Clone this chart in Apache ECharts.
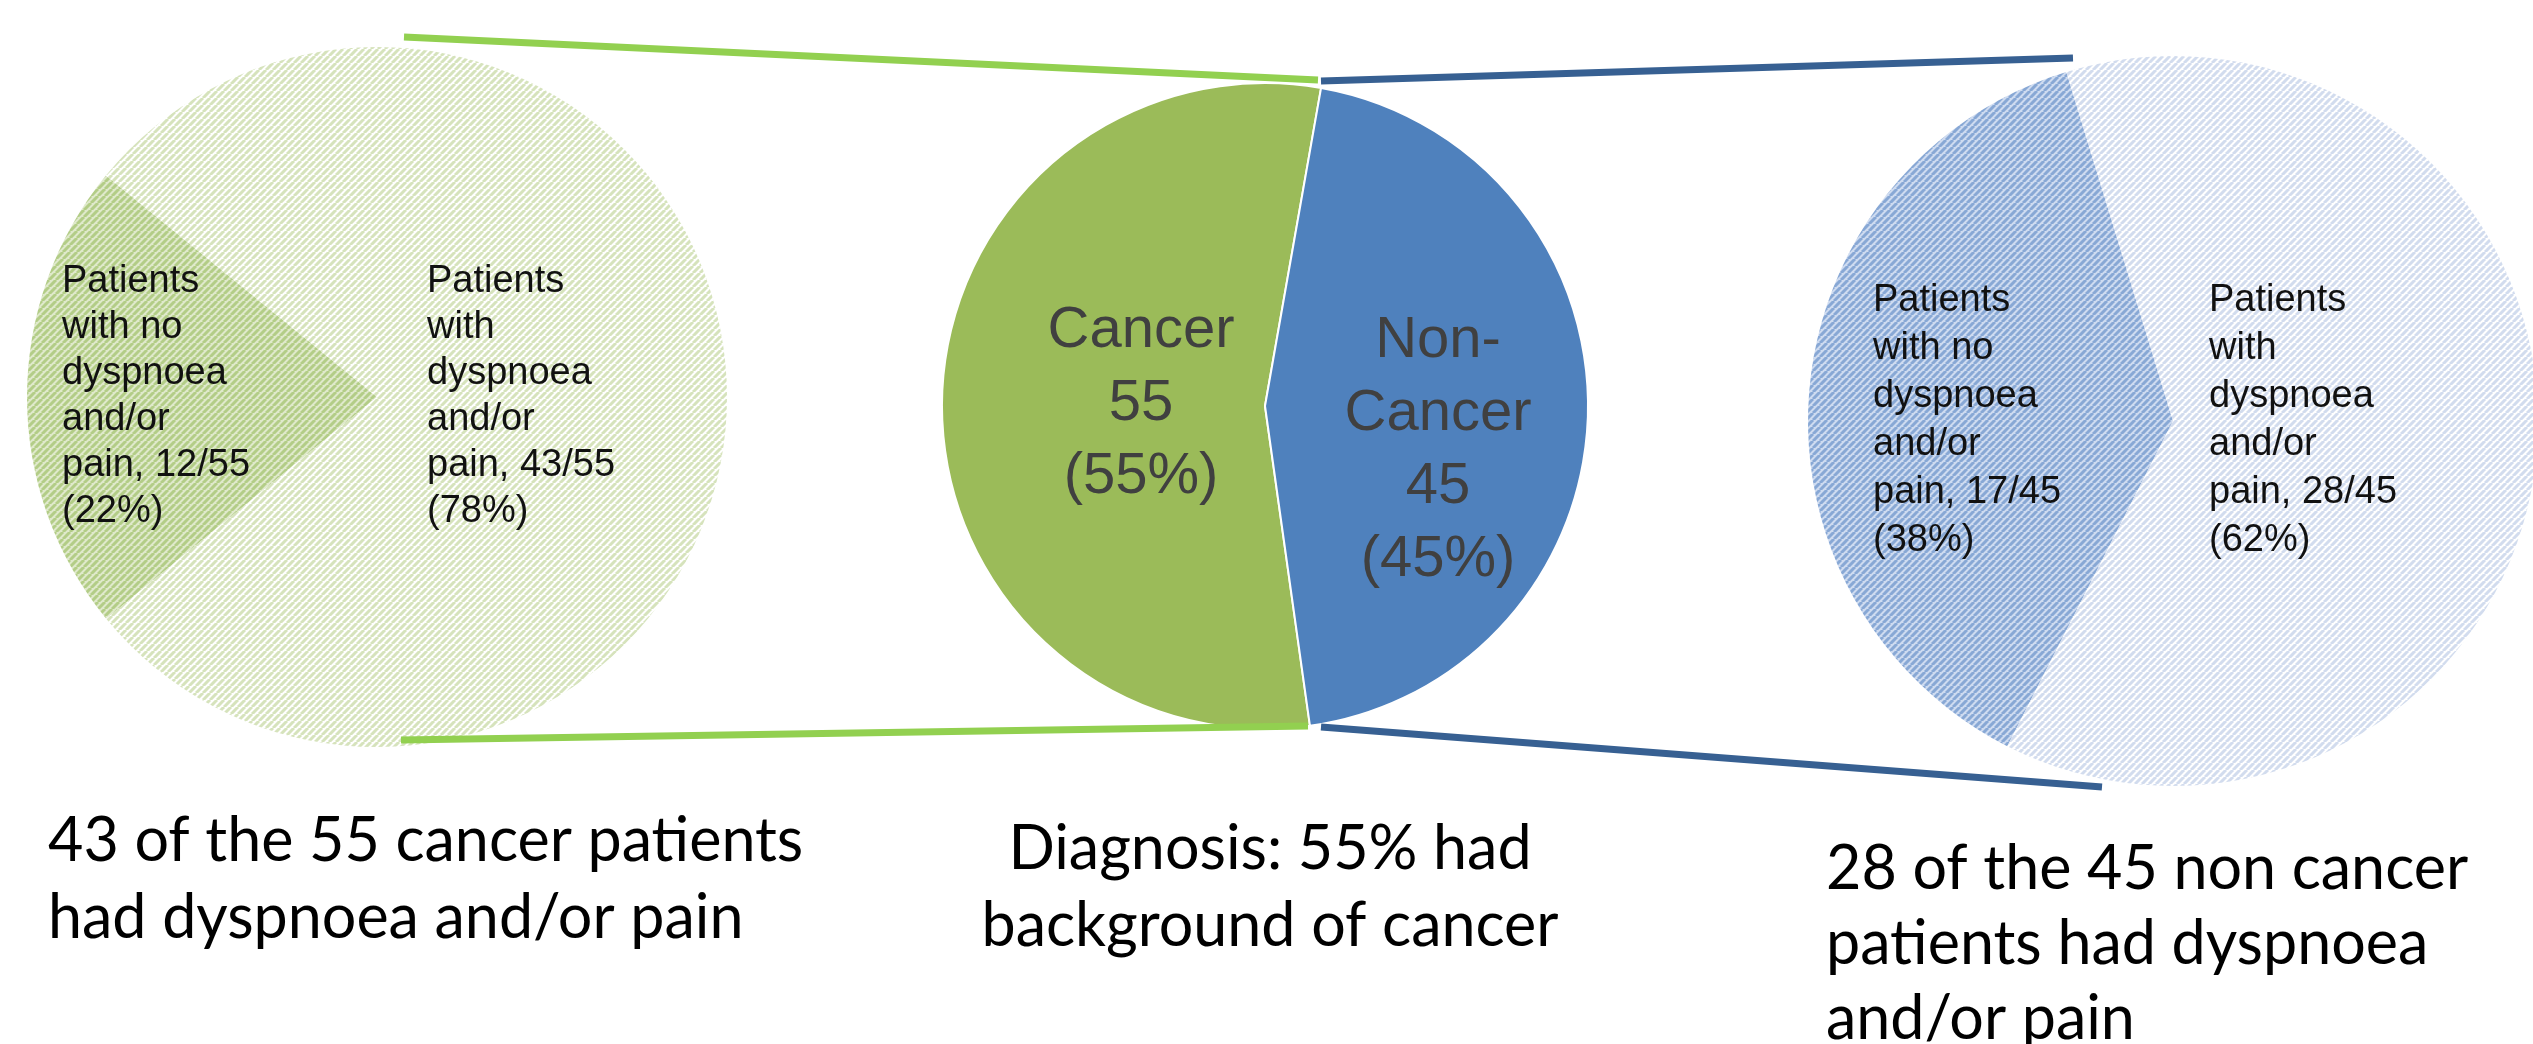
<!DOCTYPE html>
<html>
<head>
<meta charset="utf-8">
<title>Dyspnoea and pain by diagnosis</title>
<script src="https://cdn.jsdelivr.net/npm/echarts@6/dist/echarts.min.js"></script>
<style>
  html, body { margin: 0; padding: 0; background: #fff; }
  #chart { width: 2533px; height: 1044px; }
</style>
</head>
<body>
<div id="chart"></div>
<script>
// centre pie: diagnosis
var diagnosisNames = ['Cancer', 'Non-Cancer']
var diagnosisValues = [55, 45]

// left pie: cancer patients
var cancerNames = ['Patients\nwith no\ndyspnoea\nand/or\npain', 'Patients\nwith\ndyspnoea\nand/or\npain']
var cancerValues = [12, 43]

// right pie: non cancer patients
var nonCancerNames = ['Patients\nwith no\ndyspnoea\nand/or\npain', 'Patients\nwith\ndyspnoea\nand/or\npain']
var nonCancerValues = [17, 28]

var captions = [
  '43 of the 55 cancer patients\nhad dyspnoea and/or pain',
  'Diagnosis: 55% had\nbackground of cancer',
  '28 of the 45 non cancer\npatients had dyspnoea\nand/or pain'
]

// hatched fill, like the office "upward diagonal" pattern
function stripes(bg, fg, step, lw) {
  var c = document.createElement('canvas')
  c.width = step
  c.height = step
  var ctx = c.getContext('2d')
  ctx.fillStyle = bg
  ctx.fillRect(0, 0, step, step)
  ctx.strokeStyle = fg
  ctx.lineWidth = lw
  ctx.beginPath()
  for (var k = -1; k <= 1; k++) {
    ctx.moveTo(k * step, step)
    ctx.lineTo(k * step + step, 0)
  }
  ctx.stroke()
  return { image: c, repeat: 'repeat' }
}

function sum(arr) {
  return arr.reduce(function(a, b) { return a + b }, 0)
}

function subLabel(names, values) {
  var total = sum(values)
  return function(p) {
    return names[p.dataIndex] + ', ' + values[p.dataIndex] + '/' + total + '\n(' + Math.round(p.percent) + '%)'
  }
}

var chart = echarts.init(document.getElementById('chart'))

var subLabelStyle = {
  show: true,
  position: 'inside',
  fontFamily: 'Liberation Sans, Arial, sans-serif',
  fontSize: 38,
  color: '#111'
}

var captionFont = '61px Lato, Carlito, sans-serif'

chart.setOption({
  backgroundColor: '#fff',
  animation: false,
  series: [
    {
      name: 'Cancer patients',
      type: 'pie',
      center: [377, 397],
      radius: 350,
      startAngle: 219.3,
      clockwise: true,
      avoidLabelOverlap: false,
      silent: true,
      data: cancerNames.map(function(n, i) {
        return {
          name: n,
          value: cancerValues[i],
          itemStyle: {
            color: i === 0 ? stripes('#dfe9cb', '#b3cd87', 7, 3) : stripes('#ffffff', '#d6e3bc', 7, 3)
          }
        }
      }),
      label: Object.assign({}, subLabelStyle, { lineHeight: 46, formatter: subLabel(cancerNames, cancerValues) }),
      labelLine: { show: false },
      labelLayout: function(p) {
        return { x: [62, 427][p.dataIndex], y: 397, align: 'left', verticalAlign: 'middle' }
      }
    },
    {
      name: 'Diagnosis',
      type: 'pie',
      center: [1265, 406],
      radius: 323,
      startAngle: 278,
      clockwise: true,
      avoidLabelOverlap: false,
      silent: true,
      data: diagnosisNames.map(function(n, i) {
        return { name: n, value: diagnosisValues[i] }
      }),
      color: ['#9bbb59', '#4f81bd'],
      itemStyle: { borderColor: '#fff', borderWidth: 2 },
      label: {
        show: true,
        position: 'inside',
        fontFamily: 'Liberation Sans, Arial, sans-serif',
        fontSize: 58,
        lineHeight: 73,
        color: '#404040',
        formatter: function(p) {
          return p.name.replace('Non-', 'Non-\n') + '\n' + p.value + '\n(' + Math.round(p.percent) + '%)'
        }
      },
      labelLine: { show: false },
      labelLayout: function(p) {
        var pos = [[1141, 404], [1438, 450]][p.dataIndex]
        return { x: pos[0], y: pos[1], align: 'center', verticalAlign: 'middle' }
      }
    },
    {
      name: 'Non cancer patients',
      type: 'pie',
      center: [2173, 421],
      radius: 365,
      startAngle: 243,
      clockwise: true,
      avoidLabelOverlap: false,
      silent: true,
      data: nonCancerNames.map(function(n, i) {
        return {
          name: n,
          value: nonCancerValues[i],
          itemStyle: {
            color: i === 0 ? stripes('#cedbf0', '#88a8d5', 7, 3) : stripes('#ffffff', '#d2dcee', 7, 3)
          }
        }
      }),
      label: Object.assign({}, subLabelStyle, { lineHeight: 48, formatter: subLabel(nonCancerNames, nonCancerValues) }),
      labelLine: { show: false },
      labelLayout: function(p) {
        return { x: [1873, 2209][p.dataIndex], y: 421, align: 'left', verticalAlign: 'middle' }
      }
    }
  ],
  graphic: [
    // connectors from the centre pie to the breakdown pies
    { type: 'line', z: 100, shape: { x1: 404, y1: 37, x2: 1318, y2: 80 }, style: { stroke: '#92d050', lineWidth: 7 } },
    { type: 'line', z: 100, shape: { x1: 401, y1: 740, x2: 1308, y2: 726 }, style: { stroke: '#92d050', lineWidth: 7 } },
    { type: 'line', z: 100, shape: { x1: 1321, y1: 81, x2: 2073, y2: 58 }, style: { stroke: '#376092', lineWidth: 7 } },
    { type: 'line', z: 100, shape: { x1: 1321, y1: 727, x2: 2102, y2: 787 }, style: { stroke: '#376092', lineWidth: 7 } },
    {
      type: 'text', left: 48, top: 803,
      style: { text: captions[0], font: captionFont, lineHeight: 77, fill: '#000' }
    },
    {
      type: 'text', x: 1270, y: 811,
      style: { text: captions[1], font: captionFont, lineHeight: 77, fill: '#000', align: 'center' }
    },
    {
      type: 'text', left: 1826, top: 832,
      style: { text: captions[2], font: captionFont, lineHeight: 75, fill: '#000' }
    }
  ]
})
</script>
</body>
</html>
